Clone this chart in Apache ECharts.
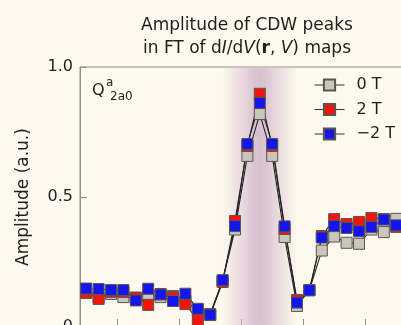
<!DOCTYPE html>
<html>
<head>
<meta charset="utf-8">
<script src="https://cdn.jsdelivr.net/npm/echarts@6/dist/echarts.min.js"></script>
<style>
html,body{margin:0;padding:0;background:#fdf9ee;}
#c{width:401px;height:325px;}
</style>
</head>
<body>
<div id="c"></div>
<script>
// Bias-point categories (labels lie below the visible crop)
const categories = ['0','1','2','3','4','5','6','7','8','9','10','11','12','13','14','15','16','17','18','19','20','21','22','23','24','25'];
// Amplitude of CDW peaks
const amp0T  = [0.138,0.115,0.127,0.115,0.112,0.123,0.115,0.119,0.100,0.062,0.050,0.177,0.375,0.658,0.819,0.658,0.346,0.081,0.142,0.294,0.348,0.324,0.320,0.375,0.365,0.416];
const amp2T  = [0.131,0.108,0.135,0.135,0.113,0.085,0.127,0.115,0.088,0.027,0.046,0.173,0.408,0.696,0.897,0.696,0.377,0.104,0.142,0.350,0.415,0.396,0.404,0.419,0.415,0.385];
const ampM2T = [0.148,0.146,0.142,0.142,0.102,0.147,0.125,0.100,0.128,0.070,0.047,0.180,0.388,0.704,0.862,0.704,0.387,0.094,0.141,0.344,0.388,0.381,0.368,0.385,0.413,0.391];
const seriesNames = ['0 T','2 T','\u22122 T'];
const yMin = 0, yMax = 1.0, yStep = 0.5;
const bandFrom = '11', bandTo = '17';

const FONT = 'DejaVu Sans';
const TXT = '#1e1e1e';
const AXIS = '#958f80';
const BG = '#fdf9ee';
const fills = ['#c9c6bc', '#f4140c', '#1414ee'];
const dataSets = [amp0T, amp2T, ampM2T];

const chart = echarts.init(document.getElementById('c'), null, {renderer:'canvas'});

const series = [];
series.push({
  type:'line', name:'band', data:[], silent:true, z:0,
  markArea:{
    silent:true,
    itemStyle:{
      color:{type:'linear',x:0,y:0,x2:1,y2:0,colorStops:[
        {offset:0,color:'rgba(214,190,207,0)'},
        {offset:0.12,color:'rgba(214,190,207,0.25)'},
        {offset:0.3,color:'rgba(214,190,207,0.6)'},
        {offset:0.43,color:'rgba(214,190,207,0.9)'},
        {offset:0.5,color:'rgba(214,190,207,0.95)'},
        {offset:0.57,color:'rgba(214,190,207,0.9)'},
        {offset:0.7,color:'rgba(214,190,207,0.6)'},
        {offset:0.88,color:'rgba(214,190,207,0.25)'},
        {offset:1,color:'rgba(214,190,207,0)'}
      ]}
    },
    data:[[{xAxis:bandFrom},{xAxis:bandTo}]]
  }
});
dataSets.forEach((d,k)=>{
  series.push({
    type:'line', name:'line'+k, data:d, showSymbol:false, silent:true, z:2,
    lineStyle:{color:'#222', width:1.1}
  });
});
dataSets.forEach((d,k)=>{
  series.push({
    type:'line', name:seriesNames[k], data:d, z:3,
    symbol:'rect', symbolSize:11, showSymbol:true, showAllSymbol:true,
    lineStyle:{width:0, opacity:0},
    itemStyle:{color:fills[k], borderColor:'#5a564e', borderWidth:1}
  });
});

chart.setOption({
  animation:false,
  backgroundColor:BG,
  title:{
    left:242, top:9, textAlign:'center',
    text:'{n|Amplitude of CDW peaks}\n{n|in FT of d}{i|I}{n|/d}{i|V}{n|(}{b|r}{n|, }{i|V}{n|) maps}',
    textStyle:{
      fontWeight:'normal',
      rich:{
        n:{fontFamily:FONT,fontSize:17,lineHeight:23,color:TXT,fontWeight:'normal'},
        i:{fontFamily:FONT,fontSize:17,lineHeight:23,color:TXT,fontStyle:'italic',fontWeight:'normal'},
        b:{fontFamily:FONT,fontSize:17,lineHeight:23,color:TXT,fontWeight:'bold'}
      }
    }
  },
  legend:{
    data:seriesNames, orient:'vertical', left:309, top:72,
    itemWidth:30, itemHeight:14, itemGap:8.5,
    lineStyle:{color:'#333', width:1, opacity:1},
    textStyle:{fontFamily:FONT, fontSize:16, lineHeight:16, color:TXT, padding:[0,0,0,7]}
  },
  grid:{left:80, top:67, right:-1.4, bottom:-2, outerBoundsMode:'none', containLabel:false,
    show:true, borderColor:AXIS, borderWidth:1, backgroundColor:'transparent'},
  xAxis:{
    type:'category', data:categories, boundaryGap:true,
    axisLine:{show:true, lineStyle:{color:AXIS}},
    axisTick:{show:true, inside:true, length:8, interval:(i)=> i%5===3, lineStyle:{color:AXIS}},
    axisLabel:{show:false},
    splitLine:{show:false}
  },
  yAxis:{
    type:'value', min:yMin, max:yMax, interval:yStep,
    name:'Amplitude (a.u.)', nameLocation:'middle', nameGap:48,
    nameTextStyle:{fontFamily:FONT, fontSize:17, color:TXT},
    axisLine:{show:true, lineStyle:{color:AXIS}},
    axisTick:{show:true, inside:true, length:7, lineStyle:{color:AXIS}},
    axisLabel:{fontFamily:FONT, fontSize:16, color:TXT, margin:7,
      formatter:(v)=> v===0 ? '0' : v.toFixed(1)},
    splitLine:{show:false}
  },
  graphic:[
    {type:'text', left:92, top:83, style:{text:'Q', fontFamily:FONT, fontSize:16, fill:TXT}},
    {type:'text', left:106, top:77, style:{text:'a', fontFamily:FONT, fontSize:12, fill:TXT}},
    {type:'text', left:110, top:90.5, style:{text:'2a0', fontFamily:FONT, fontSize:12, fill:TXT}}
  ],
  series:series
});
</script>
</body>
</html>
